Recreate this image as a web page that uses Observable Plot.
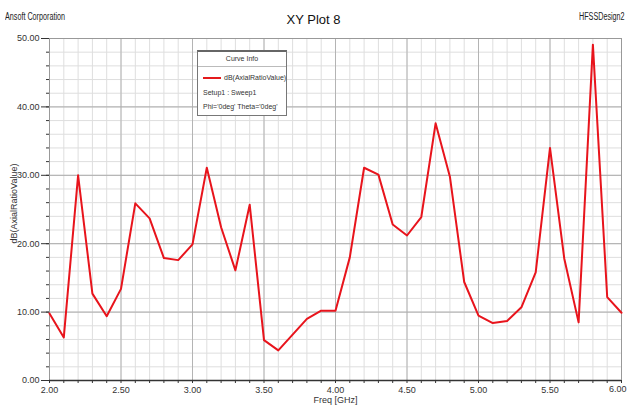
<!DOCTYPE html>
<html>
<head>
<meta charset="utf-8">
<script src="https://cdn.jsdelivr.net/npm/d3@7"></script>
<script src="https://cdn.jsdelivr.net/npm/@observablehq/plot@0.6"></script>
<style>
  html, body { margin: 0; padding: 0; background: #fff; }
  #wrap { position: relative; width: 627px; height: 409px; overflow: hidden;
          font-family: "Liberation Sans", Arial, sans-serif; }
  .txt { position: absolute; white-space: nowrap; color: #222; transform-origin: 0 0; }
  #legend { position: absolute; left: 197px; top: 50px; width: 90px; height: 66px;
            background: #fff; border: 1px solid #777; border-top: 2px solid #666;
            font-size: 7px; color: #333; box-sizing: border-box; }
  #legend .hdr { text-align: center; padding-top: 3px; height: 15px; border-bottom: 1px solid #bbb; box-sizing: border-box; }
  #legend .row { position: absolute; left: 5px; white-space: nowrap; }
  #legend .sw { display: inline-block; width: 18px; height: 2px; background: #e41a1c; vertical-align: middle; margin-right: 3px; }
</style>
</head>
<body>
<div id="wrap">
  <div id="chart"></div>
  <div class="txt" style="left:5px;top:11px;font-size:10px;transform:scaleX(0.72);">Ansoft Corporation</div>
  <div class="txt" style="left:0;width:627px;text-align:center;top:12px;font-size:13px;color:#111;">XY Plot 8</div>
  <div class="txt" style="left:579px;top:11px;font-size:10px;transform:scaleX(0.72);">HFSSDesign2</div>
  <div id="legend">
    <div class="hdr">Curve Info</div>
    <div class="row" style="top:22px;"><span class="sw"></span>dB(AxialRatioValue)</div>
    <div class="row" style="top:37px;">Setup1 : Sweep1</div>
    <div class="row" style="top:51px;">Phi='0deg' Theta='0deg'</div>
  </div>
</div>
<script>
const freq = [2.0,2.1,2.2,2.3,2.4,2.5,2.6,2.7,2.8,2.9,3.0,3.1,3.2,3.3,3.4,3.5,3.6,3.7,3.8,3.9,4.0,
              4.1,4.2,4.3,4.4,4.5,4.6,4.7,4.8,4.9,5.0,5.1,5.2,5.3,5.4,5.5,5.6,5.7,5.8,5.9,6.0];
const axialRatio = [9.8,6.3,30.0,12.7,9.4,13.4,25.9,23.7,17.9,17.6,19.9,31.1,22.4,16.1,25.7,5.9,4.4,6.7,9.0,10.2,10.2,
                    18.0,31.1,30.1,22.8,21.2,23.9,37.6,29.8,14.4,9.5,8.4,8.7,10.7,15.8,34.0,17.8,8.5,49.1,12.2,9.9];
const xTicks = [2.0,2.5,3.0,3.5,4.0,4.5,5.0,5.5,6.0];
const yTicks = [0,10,20,30,40,50];
const xMinor = d3.range(20,61).map(d => d/10);
const yMinor = d3.range(0,51,2);

const data = freq.map((f,i) => ({f, v: axialRatio[i]}));
const fmt = d3.format(".2f");
const xInner = xTicks.slice(0, -1);
const xLast = xTicks.slice(-1);

const chart = Plot.plot({
  width: 627, height: 409,
  marginLeft: 49, marginRight: 6, marginTop: 38, marginBottom: 29,
  x: {domain: [2, 6]},
  y: {domain: [0, 50]},
  style: {fontFamily: '"Liberation Sans", Arial, sans-serif', fontSize: "9px", background: "white", color: "#333"},
  marks: [
    Plot.gridX(xMinor, {stroke: "#dedede", strokeOpacity: 1}),
    Plot.gridY(yMinor, {stroke: "#dedede", strokeOpacity: 1}),
    Plot.gridX(xTicks, {stroke: "#b4b4b4", strokeOpacity: 1}),
    Plot.gridY(yTicks, {stroke: "#acacac", strokeOpacity: 1}),
    Plot.frame({stroke: "#999"}),
    Plot.ruleY([0], {stroke: "#333", strokeWidth: 1.5}),
    Plot.axisX(xMinor, {tickSize: 3, text: null, label: null, stroke: "#333"}),
    Plot.axisX(xInner, {tickSize: 0, tickPadding: 6, tickFormat: fmt, label: null, fill: "#333"}),
    Plot.text(xLast, {x: d => d, frameAnchor: "bottom", dy: 11, text: d => fmt(d), textAnchor: "end", dx: 5, fontSize: 9, fill: "#333"}),
    Plot.axisY(yMinor, {tickSize: 3, text: null, label: null, stroke: "#333"}),
    Plot.axisY(yTicks, {tickSize: 8, tickPadding: 2, tickFormat: fmt, label: null, fill: "#333", stroke: "#333"}),
    Plot.line(data, {x: "f", y: "v", stroke: "#e8141c", strokeWidth: 2}),
    Plot.text(["Freq [GHz]"], {x: 4.0, frameAnchor: "bottom", dy: 22, text: d => d, fontSize: 9, fill: "#333"}),
    Plot.text(["dB(AxialRatioValue)"], {frameAnchor: "left", textAnchor: "middle", dx: -35, dy: -6, rotate: -90, text: d => d, fontSize: 9, fill: "#333"})
  ]
});
document.getElementById("chart").append(chart);
</script>
</body>
</html>
